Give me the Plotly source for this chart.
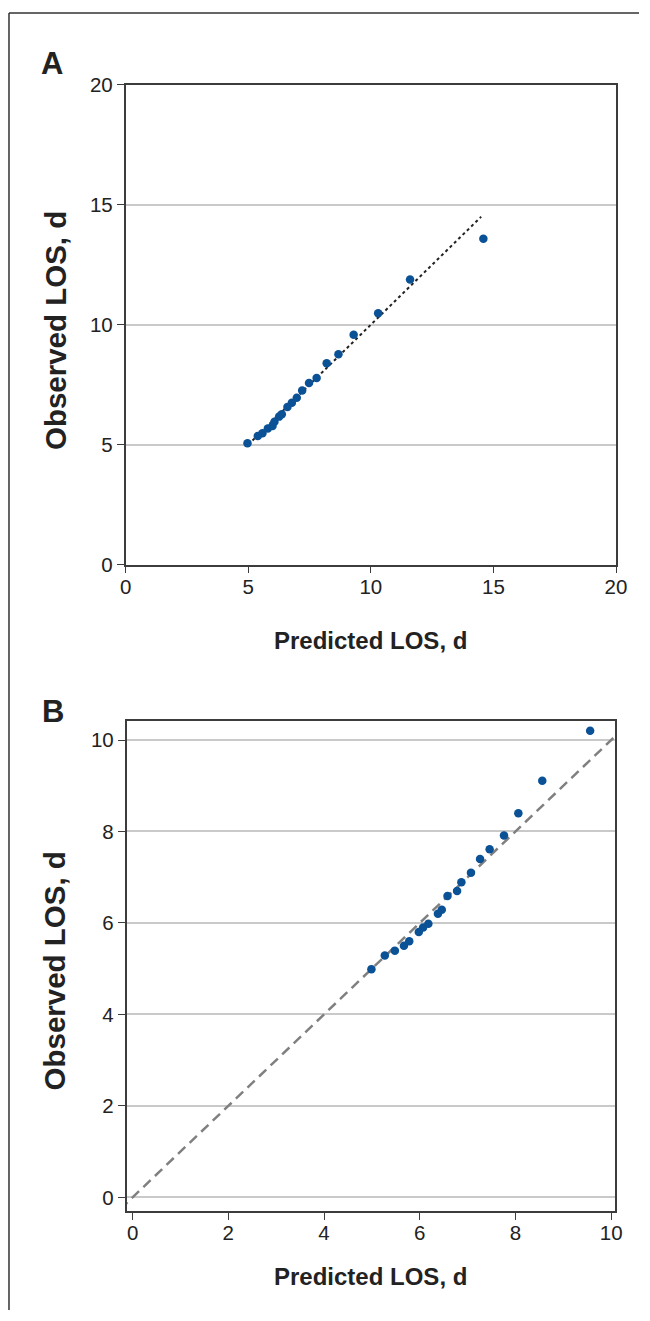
import plotly.graph_objects as go

# ---- Data ----
pred_a = [4.97, 5.39, 5.58, 5.80, 5.99, 6.07, 6.26, 6.37, 6.60, 6.78,
          6.98, 7.20, 7.48, 7.79, 8.20, 8.68, 9.30, 10.30, 11.60, 14.59]
obs_a = [5.06, 5.36, 5.48, 5.67, 5.78, 5.96, 6.17, 6.27, 6.57, 6.75,
         6.96, 7.26, 7.57, 7.78, 8.39, 8.77, 9.58, 10.48, 11.89, 13.58]
fit_a = [5.0, 14.5]

pred_b = [4.99, 5.27, 5.48, 5.67, 5.78, 5.98, 6.07, 6.18, 6.38, 6.46,
          6.58, 6.78, 6.87, 7.07, 7.26, 7.46, 7.76, 8.06, 8.56, 9.56]
obs_b = [4.99, 5.29, 5.39, 5.50, 5.60, 5.80, 5.90, 5.98, 6.20, 6.29,
         6.59, 6.70, 6.89, 7.10, 7.40, 7.61, 7.91, 8.40, 9.11, 10.20]
ident_b = [-0.5, 10.5]

ticks_a = [0, 5, 10, 15, 20]
ticks_b = [0, 2, 4, 6, 8, 10]

W, H = 650, 1321
BLUE = "#0b5196"
AXC = "#3c3c3c"
GRID = "#c9c9c9"
FONT = "Liberation Sans, Arial, sans-serif"

# compensation for how the page ends up in the final picture
SX, OX = 0.977, 5.0
SY, OY = 0.985, 10.0


def px(x):
    return ((x - OX) / SX) / W


def py(y):
    return 1 - ((y - OY) / SY) / H


fig = go.Figure()

fig.add_trace(go.Scatter(x=fit_a, y=fit_a, mode="lines",
                         line=dict(color="#222222", width=2, dash="dot"),
                         xaxis="x", yaxis="y", showlegend=False))
fig.add_trace(go.Scatter(x=pred_a, y=obs_a, mode="markers",
                         marker=dict(color=BLUE, size=8.5),
                         xaxis="x", yaxis="y", showlegend=False))

fig.add_trace(go.Scatter(x=ident_b, y=ident_b, mode="lines",
                         line=dict(color="#808080", width=2.5, dash="10px,6px"),
                         xaxis="x2", yaxis="y2", showlegend=False))
fig.add_trace(go.Scatter(x=pred_b, y=obs_b, mode="markers",
                         marker=dict(color=BLUE, size=8.5),
                         xaxis="x2", yaxis="y2", showlegend=False))

axis_common = dict(
    showline=True, linecolor=AXC, linewidth=1.5, mirror=True,
    ticks="outside", ticklen=7, tickcolor=AXC, tickwidth=1.2,
    tickfont=dict(family=FONT, size=20.5, color="#222222"),
    zeroline=False,
)

fig.update_layout(
    width=W, height=H,
    margin=dict(l=0, r=0, t=0, b=0),
    paper_bgcolor="white", plot_bgcolor="white",
    showlegend=False,
    xaxis=dict(domain=[px(125), px(617)], range=[0, 20], tickvals=ticks_a,
               showgrid=False, anchor="y", ticklabelstandoff=-4, **axis_common),
    yaxis=dict(domain=[py(564), py(83)], range=[0, 20], tickvals=ticks_a,
               showgrid=True, gridcolor=GRID, gridwidth=2, anchor="x",
               **axis_common),
    xaxis2=dict(domain=[px(126), px(616)], range=[-0.125, 10.08], tickvals=ticks_b,
                showgrid=False, anchor="y2", ticklabelstandoff=-4, **axis_common),
    yaxis2=dict(domain=[py(1212), py(721)], range=[-0.3, 10.41], tickvals=ticks_b,
                showgrid=True, gridcolor=GRID, gridwidth=2, anchor="x2",
                **axis_common),
)

xt_font = dict(family=FONT, size=24, color="#222222")
yt_font = dict(family=FONT, size=29.5, color="#222222")
letter_font = dict(family=FONT, size=31, color="#222222")

annots = [
    dict(text="<b>A</b>", x=px(51), y=py(62), font=letter_font),
    dict(text="<b>B</b>", x=px(52), y=py(711), font=letter_font),
    dict(text="<b>Predicted LOS, d</b>", x=px(371), y=py(640), font=xt_font),
    dict(text="<b>Predicted LOS, d</b>", x=px(371), y=py(1278), font=xt_font),
    dict(text="<b>Observed LOS, d</b>", x=px(54), y=py(329), font=yt_font, textangle=-90),
    dict(text="<b>Observed LOS, d</b>", x=px(54), y=py(971), font=yt_font, textangle=-90),
]
for a in annots:
    fig.add_annotation(xref="paper", yref="paper", showarrow=False,
                       xanchor="center", yanchor="middle", **a)

# outer frame (top and left edges)
fig.add_shape(type="line", xref="paper", yref="paper",
              x0=px(8), x1=1.0, y0=py(11), y1=py(11),
              line=dict(color="#333333", width=1.5))
fig.add_shape(type="line", xref="paper", yref="paper",
              x0=px(8), x1=px(8), y0=py(11), y1=0.0,
              line=dict(color="#333333", width=1.5))

fig.write_html("out.html", config={"displayModeBar": False},
               post_script="document.body.style.margin='0';document.body.style.overflow='hidden';")
